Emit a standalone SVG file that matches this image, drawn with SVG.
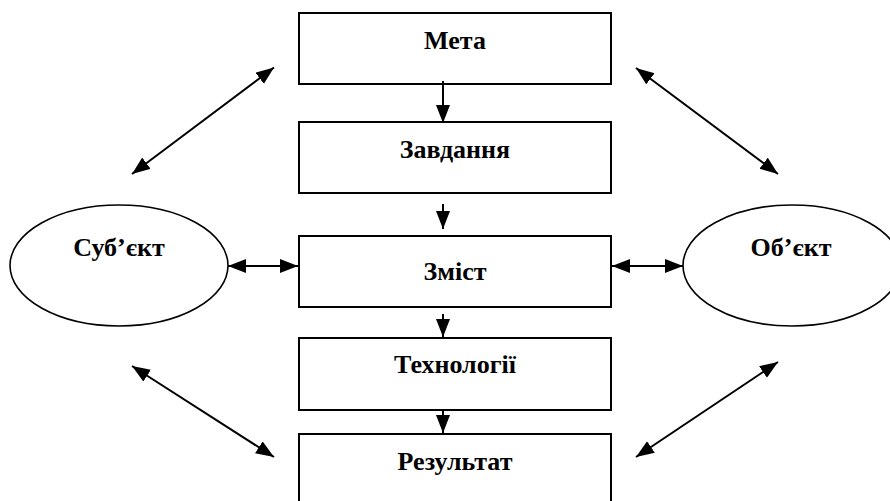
<svg xmlns="http://www.w3.org/2000/svg" width="890" height="501" viewBox="0 0 890 501">
<style>
.box{fill:#fff;stroke:#000;stroke-width:2}
.ell{fill:#fff;stroke:#000;stroke-width:1.6}
.lbl{font-weight:bold;font-size:26px;text-anchor:middle;fill:#000}
.con{stroke:#000;stroke-width:2;fill:none}
</style>
<defs>
<marker id="ah" markerUnits="userSpaceOnUse" markerWidth="19" markerHeight="15" refX="18" refY="7" orient="auto-start-reverse">
<path d="M0,0 L18,7 L0,14 z" fill="#000"/>
</marker>
</defs>
<rect width="890" height="501" fill="#fff"/>
<g font-family="Liberation Serif, DejaVu Serif, serif">
<g id="meta"><rect class="box" x="299" y="13" width="312" height="71"/><text class="lbl" x="455" y="49">Мета</text></g>
<g id="zavdannia"><rect class="box" x="299" y="122" width="312" height="71"/><text class="lbl" x="455" y="158">Завдання</text></g>
<g id="zmist"><rect class="box" x="299" y="236" width="312" height="71"/><text class="lbl" x="455" y="280">Зміст</text></g>
<g id="tekhnolohii"><rect class="box" x="299" y="338" width="312" height="72"/><text class="lbl" x="455" y="373">Технології</text></g>
<g id="rezultat"><rect class="box" x="299" y="434" width="312" height="90"/><text class="lbl" x="455" y="470">Результат</text></g>
<g id="subiekt"><ellipse class="ell" cx="119" cy="265.5" rx="109" ry="60.5"/><text class="lbl" x="119" y="256">Суб’єкт</text></g>
<g id="obiekt"><ellipse class="ell" cx="792" cy="265.5" rx="109" ry="60.5"/><text class="lbl" x="791" y="256">Об’єкт</text></g>
</g>
<g id="connectors">
<line class="con" x1="443" y1="81" x2="443" y2="123" marker-end="url(#ah)"/>
<line class="con" x1="443" y1="204" x2="443" y2="229" marker-end="url(#ah)"/>
<line class="con" x1="443" y1="314" x2="443" y2="337" marker-end="url(#ah)"/>
<line class="con" x1="443" y1="410" x2="443" y2="433" marker-end="url(#ah)"/>
<line class="con" x1="228" y1="266" x2="298" y2="266" marker-start="url(#ah)" marker-end="url(#ah)"/>
<line class="con" x1="612" y1="266" x2="683" y2="266" marker-start="url(#ah)" marker-end="url(#ah)"/>
<line class="con" x1="132" y1="174" x2="274" y2="67.5" marker-start="url(#ah)" marker-end="url(#ah)"/>
<line class="con" x1="636" y1="68" x2="778" y2="174" marker-start="url(#ah)" marker-end="url(#ah)"/>
<line class="con" x1="132" y1="366" x2="274" y2="457" marker-start="url(#ah)" marker-end="url(#ah)"/>
<line class="con" x1="636" y1="457" x2="778" y2="362" marker-start="url(#ah)" marker-end="url(#ah)"/>
</g>
</svg>
